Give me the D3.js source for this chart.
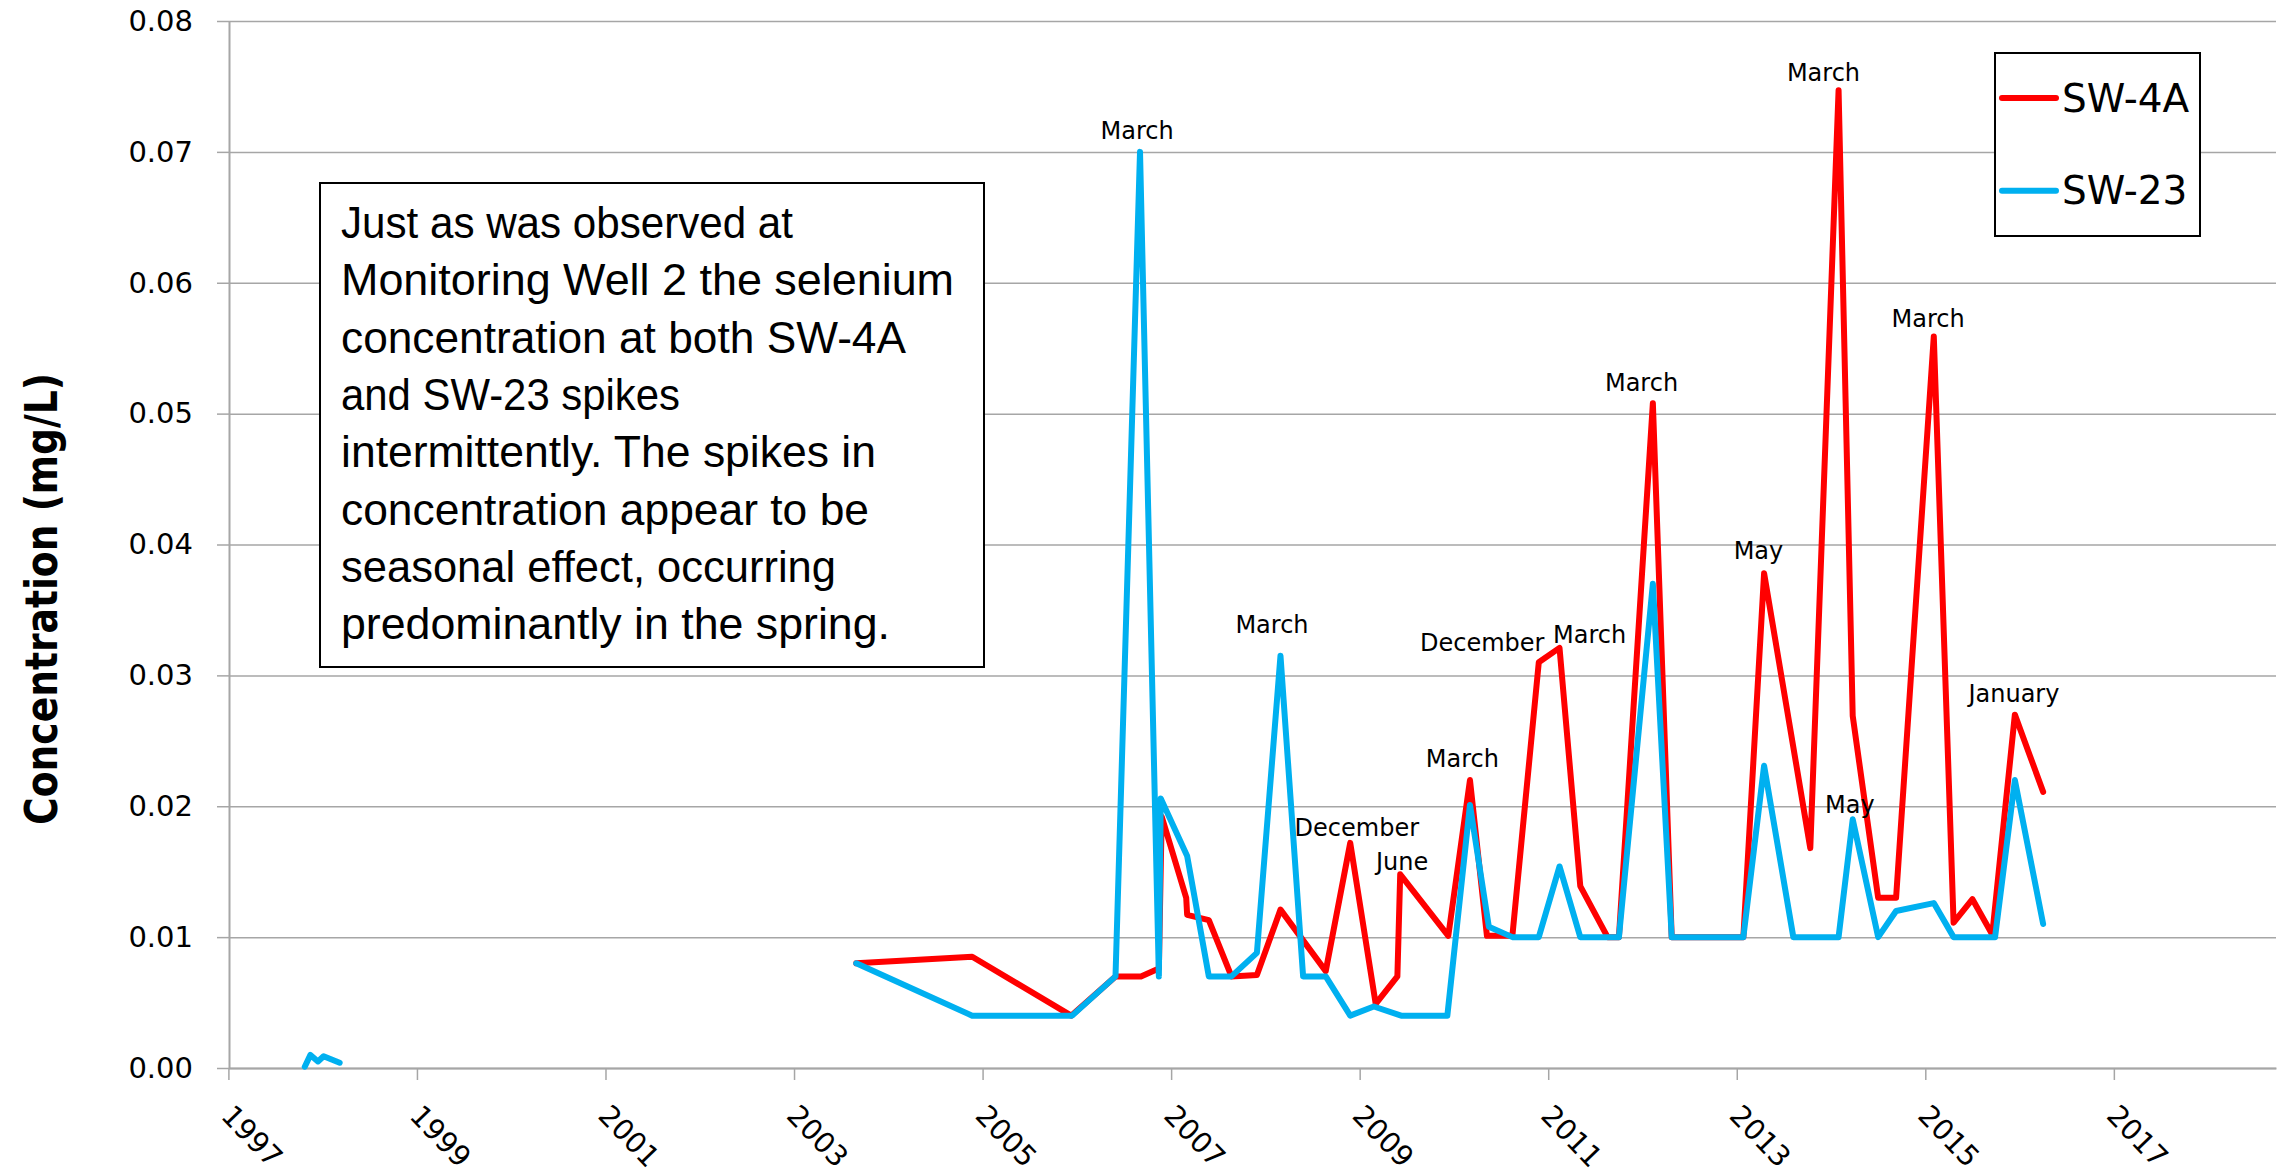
<!DOCTYPE html>
<meta charset="utf-8">
<style>
body { margin: 0; background: #fff; }
</style>
<body>
<script src="https://d3js.org/d3.v7.min.js"></script>
<script>
// sampling dates in decimal years, concentrations in mg/L
var sw4aDates = [2003.66, 2004.89, 2005.94, 2006.41, 2006.68, 2006.87, 2006.90, 2007.16, 2007.17,
    2007.40, 2007.64, 2007.91, 2008.16, 2008.64, 2008.90, 2009.17, 2009.40, 2009.43, 2009.94,
    2010.17, 2010.35, 2010.62, 2010.90, 2011.12, 2011.34, 2011.63, 2011.75, 2012.11, 2012.31,
    2013.07, 2013.29, 2013.78, 2014.08, 2014.23, 2014.50, 2014.69, 2015.09, 2015.30, 2015.50,
    2015.71, 2015.95, 2016.25];
var sw4aValues = [0.0080, 0.0085, 0.0040, 0.0070, 0.0070, 0.0076, 0.0192, 0.0130, 0.0117,
    0.0113, 0.0070, 0.0071, 0.0121, 0.0074, 0.0172, 0.0049, 0.0070, 0.0148, 0.0101,
    0.0220, 0.0101, 0.0101, 0.0310, 0.0321, 0.0139, 0.0100, 0.0100, 0.0508, 0.0100,
    0.0100, 0.0378, 0.0168, 0.0747, 0.0269, 0.0130, 0.0130, 0.0559, 0.0111, 0.0129,
    0.0102, 0.0270, 0.0211];

// null = no samples between 1998 and 2003 (line is broken)
var sw23Dates = [1997.81, 1997.87, 1997.95, 1998.01, 1998.18, 2000.90,
    2003.66, 2004.89, 2005.95, 2006.41, 2006.67, 2006.87, 2006.89, 2007.17, 2007.40,
    2007.64, 2007.91, 2008.16, 2008.40, 2008.64, 2008.90, 2009.15, 2009.44, 2009.93,
    2010.17, 2010.37, 2010.62, 2010.90, 2011.12, 2011.34, 2011.75, 2012.11, 2012.31,
    2013.07, 2013.29, 2013.60, 2014.08, 2014.23, 2014.50, 2014.69, 2015.09, 2015.30,
    2015.74, 2015.95, 2016.25];
var sw23Values = [0.0001, 0.0010, 0.0005, 0.0009, 0.0004, null,
    0.0080, 0.0040, 0.0040, 0.0070, 0.0700, 0.0070, 0.0206, 0.0162, 0.0070,
    0.0070, 0.0088, 0.0315, 0.0070, 0.0070, 0.0040, 0.0047, 0.0040, 0.0040,
    0.0201, 0.0108, 0.0100, 0.0100, 0.0154, 0.0100, 0.0100, 0.0370, 0.0100,
    0.0100, 0.0231, 0.0100, 0.0100, 0.0190, 0.0100, 0.0120, 0.0126, 0.0100,
    0.0100, 0.0220, 0.0110];

var seriesNames = ["SW-4A", "SW-23"];
var seriesColors = ["#ff0000", "#00b0f0"];

// month call-outs placed where they sit on the chart (date, value of baseline)
var labelTexts = ["March", "March", "December", "June", "March", "December", "March",
    "March", "May", "March", "May", "March", "January"];
var labelDates = [2006.64, 2008.07, 2008.97, 2009.45, 2010.09, 2010.30, 2011.44,
    2011.99, 2013.23, 2013.92, 2014.20, 2015.03, 2015.94];
var labelValues = [0.0710, 0.0332, 0.0177, 0.0151, 0.0230, 0.0319, 0.0325,
    0.0517, 0.0389, 0.0754, 0.0195, 0.0566, 0.0280];

var yTicks = [0, 0.01, 0.02, 0.03, 0.04, 0.05, 0.06, 0.07, 0.08];
var xTicks = [1997, 1999, 2001, 2003, 2005, 2007, 2009, 2011, 2013, 2015, 2017];

var noteLines = ["Just as was observed at", "Monitoring Well 2 the selenium",
    "concentration at both SW-4A", "and SW-23 spikes", "intermittently. The spikes in",
    "concentration appear to be", "seasonal effect, occurring", "predominantly in the spring."];
var noteWidths = [452, 613, 565, 339, 535, 528, 495, 549];

var width = 2280,
    height = 1173,
    plotLeft = 229,
    plotRight = 2276,
    plotBottom = 1068,
    plotTop = 21,
    gridColor = "#a6a6a6",
    tickFont = "'DejaVu Sans', Verdana, sans-serif";

var x = d3.scaleLinear().domain([1997, 2018.72]).range([228.4, plotRight]);
var y = d3.scaleLinear().domain([0, 0.08]).range([plotBottom, plotTop]);

var svg = d3.select("body").append("svg")
    .attr("width", width)
    .attr("height", height);

svg.append("rect")
    .attr("width", width)
    .attr("height", height)
    .attr("fill", "#fff");

// horizontal gridlines
var grid = svg.append("g")
    .attr("transform", "translate(" + plotLeft + ",0)")
    .call(d3.axisLeft(y).tickValues(yTicks).tickSize(-(plotRight - plotLeft)).tickSizeOuter(0).tickFormat(""));
grid.select(".domain").remove();
grid.selectAll("line").attr("stroke", gridColor).attr("stroke-width", 1.5);

// y axis
var yAxis = svg.append("g")
    .attr("transform", "translate(" + plotLeft + ",0)")
    .call(d3.axisLeft(y).tickValues(yTicks).tickSize(12).tickSizeOuter(0)
        .tickPadding(24).tickFormat(d3.format(".2f")));
yAxis.select(".domain").attr("stroke", gridColor).attr("stroke-width", 2);
yAxis.selectAll("line").attr("stroke", gridColor).attr("stroke-width", 1.5);
yAxis.selectAll("text")
    .attr("font-family", tickFont)
    .attr("font-size", 29)
    .attr("fill", "#000");

// x axis
var xAxis = svg.append("g")
    .attr("transform", "translate(0," + plotBottom + ")")
    .call(d3.axisBottom(x).tickValues(xTicks).tickSize(12).tickSizeOuter(0).tickFormat(d3.format("d")));
xAxis.select(".domain").attr("stroke", gridColor).attr("stroke-width", 2);
xAxis.selectAll("line").attr("stroke", gridColor).attr("stroke-width", 1.5);
xAxis.selectAll("text")
    .attr("y", 0)
    .attr("dy", "0.35em")
    .attr("text-anchor", "start")
    .attr("transform", "translate(-2,42) rotate(46)")
    .attr("font-family", tickFont)
    .attr("font-size", 28.5)
    .attr("fill", "#000");

// y axis title
svg.append("text")
    .attr("transform", "translate(57,599) rotate(-90)")
    .attr("text-anchor", "middle")
    .attr("font-family", "'DejaVu Sans Condensed', 'DejaVu Sans', sans-serif")
    .attr("font-stretch", "condensed")
    .attr("font-weight", "bold")
    .attr("font-size", 44)
    .attr("textLength", 452)
    .attr("lengthAdjust", "spacingAndGlyphs")
    .text("Concentration (mg/L)");

// note box
svg.append("rect")
    .attr("x", 320)
    .attr("y", 183)
    .attr("width", 664)
    .attr("height", 484)
    .attr("fill", "#fff")
    .attr("stroke", "#000")
    .attr("stroke-width", 2);

svg.append("g").selectAll("text")
    .data(noteLines)
    .enter()
    .append("text")
    .attr("x", 341)
    .attr("y", function(d, i) { return 238 + i * 57.3; })
    .attr("font-family", "'Liberation Sans', Arial, sans-serif")
    .attr("font-size", 45)
    .attr("textLength", function(d, i) { return noteWidths[i]; })
    .attr("lengthAdjust", "spacingAndGlyphs")
    .text(function(d) { return d; });

// series
var series = [
    { name: seriesNames[0], color: seriesColors[0], pts: sw4aDates.map(function(d, i) { return [d, sw4aValues[i]]; }) },
    { name: seriesNames[1], color: seriesColors[1], pts: sw23Dates.map(function(d, i) { return [d, sw23Values[i]]; }) }
];

var line = d3.line()
    .defined(function(d) { return d[1] !== null; })
    .x(function(d) { return x(d[0]); })
    .y(function(d) { return y(d[1]); });

svg.append("g").selectAll("path")
    .data(series)
    .enter()
    .append("path")
    .attr("d", function(d) { return line(d.pts); })
    .attr("fill", "none")
    .attr("stroke", function(d) { return d.color; })
    .attr("stroke-width", 6)
    .attr("stroke-linejoin", "round")
    .attr("stroke-linecap", "round");

// month labels
svg.append("g").selectAll("text")
    .data(labelTexts)
    .enter()
    .append("text")
    .attr("x", function(d, i) { return x(labelDates[i]); })
    .attr("y", function(d, i) { return y(labelValues[i]); })
    .attr("text-anchor", "middle")
    .attr("font-family", tickFont)
    .attr("font-size", 24)
    .text(function(d) { return d; });

// legend
var legend = svg.append("g");
legend.append("rect")
    .attr("x", 1995)
    .attr("y", 53)
    .attr("width", 205)
    .attr("height", 183)
    .attr("fill", "#fff")
    .attr("stroke", "#000")
    .attr("stroke-width", 2);

var items = legend.selectAll("g.item")
    .data(series)
    .enter()
    .append("g")
    .attr("class", "item")
    .attr("transform", function(d, i) { return "translate(0," + (98 + i * 92.7) + ")"; });

items.append("line")
    .attr("x1", 2002)
    .attr("x2", 2056)
    .attr("stroke", function(d) { return d.color; })
    .attr("stroke-width", 6)
    .attr("stroke-linecap", "round");

items.append("text")
    .attr("x", 2062)
    .attr("dy", "0.35em")
    .attr("font-family", tickFont)
    .attr("font-size", 39)
    .text(function(d) { return d.name; });
</script>
</body>
</html>
